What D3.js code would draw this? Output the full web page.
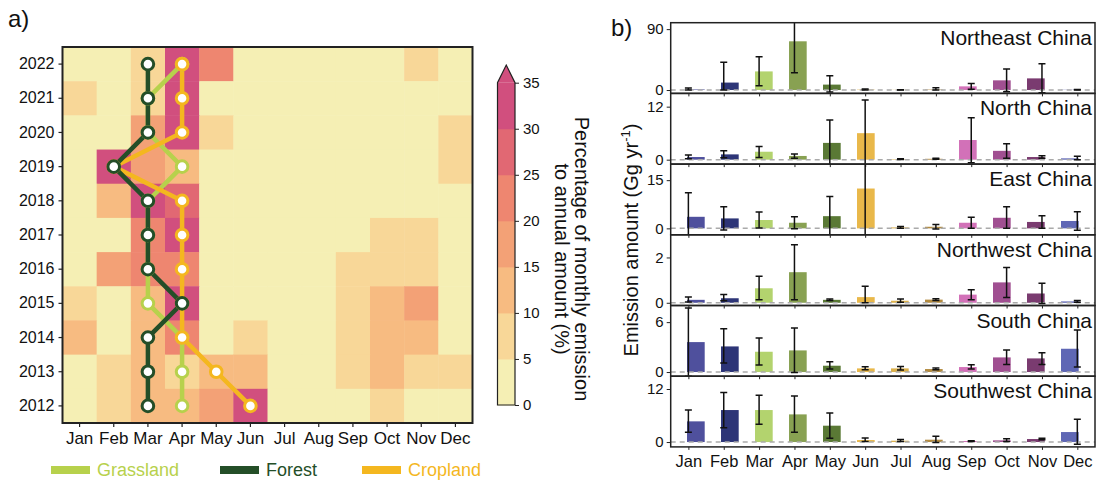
<!DOCTYPE html>
<html>
<head>
<meta charset="utf-8">
<script src="https://cdn.jsdelivr.net/npm/d3@7"></script>
<style>
body { margin: 0; background: #fff; }
svg { font-family: "Liberation Sans", Arial, sans-serif; }
</style>
</head>
<body>
<svg id="chart" width="1101" height="481"></svg>
<script>
// ---- data ----
var months = ["Jan","Feb","Mar","Apr","May","Jun","Jul","Aug","Sep","Oct","Nov","Dec"];
var years = [2022,2021,2020,2019,2018,2017,2016,2015,2014,2013,2012];

// share of annual emission (%) per month, one row per year (2022 first)
var share2022 = [2,2,7,33,22,2,2,2,2,2,7,2];
var share2021 = [7,2,7,33,2,2,2,2,2,2,2,2];
var share2020 = [2,2,17,33,7,2,2,2,2,2,2,7];
var share2019 = [2,33,17,12,2,2,2,2,2,2,2,7];
var share2018 = [2,12,33,27,2,2,2,2,2,2,2,2];
var share2017 = [2,2,22,33,2,2,2,2,2,7,7,2];
var share2016 = [2,17,22,22,2,2,2,2,7,7,7,2];
var share2015 = [7,2,12,33,2,2,2,2,7,12,17,2];
var share2014 = [12,2,12,22,2,7,2,2,7,12,12,2];
var share2013 = [2,7,12,7,12,12,2,2,7,12,7,7];
var share2012 = [2,7,12,12,17,33,2,2,2,7,2,2];
var shares = [share2022,share2021,share2020,share2019,share2018,share2017,share2016,share2015,share2014,share2013,share2012];

// peak month per land type, 2022 first
var grassPeak  = ["Apr","Mar","Mar","Apr","Mar","Mar","Mar","Mar","Apr","Apr","Apr"];
var forestPeak = ["Mar","Mar","Mar","Feb","Mar","Mar","Mar","Apr","Mar","Mar","Mar"];
var cropPeak   = ["Apr","Apr","Apr","Feb","Apr","Apr","Apr","Apr","Apr","May","Jun"];

var cbTicks = [0,5,10,15,20,25,30,35];

// panel b: regional monthly emissions (Gg/yr), mean and error range
var regionNames = ["Northeast China","North China","East China","Northwest China","South China","Southwest China"];
var neMean = [0.8,11,27.5,72,8,0.5,0.2,0.6,5.4,14.3,17.2,0.3];
var neLow  = [0,0,6.4,25.6,-3,0,0,0,1,-2.5,-4,0];
var neHigh = [3,41,49,119,21,1.5,0.4,3.4,9.8,31,38.8,0.6];
var nMean = [0.6,1.2,1.8,0.84,3.8,6.0,0.1,0.2,4.45,2.0,0.6,0.3];
var nLow  = [0.2,0.45,0.5,0.3,-1.4,-1.5,0.05,0.1,-0.7,0.3,0.3,0];
var nHigh = [1.06,2.0,3.0,1.3,9.0,13.5,0.2,0.35,9.5,3.6,0.9,0.77];
var eMean = [3.6,3.1,2.6,1.75,3.8,12.4,0.3,0.5,1.75,3.3,2.0,2.3];
var eLow  = [-3.9,-0.5,0.1,-0.1,-2.3,-3,0,-0.2,0,0,0,-0.6];
var eHigh = [11.1,6.7,5.1,3.6,9.9,28,0.6,1.2,3.5,6.7,3.9,5.2];
var nwMean = [0.13,0.2,0.64,1.35,0.13,0.25,0.09,0.14,0.36,0.9,0.41,0.06];
var nwLow  = [0.03,0.09,0.13,0.13,0.1,0,0.02,0.1,0.13,0.23,-0.03,0.02];
var nwHigh = [0.25,0.36,1.17,2.56,0.17,0.73,0.17,0.18,0.58,1.56,0.86,0.1];
var sMean = [3.6,3.08,2.44,2.6,0.76,0.44,0.44,0.36,0.6,1.76,1.64,2.8];
var sLow  = [-0.5,1.08,0.84,-0.05,0.36,0.28,0.24,0.28,0.36,0.92,0.92,0.6];
var sHigh = [7.7,5.2,4.08,5.28,1.24,0.64,0.66,0.48,0.88,2.64,2.32,5.04];
var swMean = [4.68,7.24,7.24,6.26,3.7,0.45,0.3,0.53,0.23,0.38,0.68,2.26];
var swLow  = [2.19,3.24,4.0,2.19,0.83,0.1,0.1,-0.1,0.15,0.1,0.5,-0.5];
var swHigh = [7.24,11.2,10.6,10.4,6.56,0.9,0.6,1.3,0.3,0.75,0.83,5.13];
var panelDomains = [[-5,99.5],[-1,15],[-2,20],[-0.12,3],[-0.5,8],[-1.1,14.9]];
var panelTicks = [[0,90],[0,12],[0,15],[0,2],[0,6],[0,12]];

// ---- styles ----
var binColors = ["#f5efb4","#f8d798","#f7bb81","#f3a176","#ee8670","#e16873","#d14f7e"];
var monthColors = ["#4f509d","#2d3577","#b3d36e","#88a152","#5a7935","#e9b84a","#ddb24c","#b38b40","#d271b8","#a04f91","#7a3b70","#5f67b5"];
var grassColor = "#b7d14c", forestColor = "#244e28", cropColor = "#f4b71f";

var svg = d3.select("#chart");

// ================= panel a =================
var hx = d3.scaleBand().domain(months).range([62.5, 472.5]);
var hy = d3.scaleBand().domain(years).range([47, 423]);
var color = d3.scaleThreshold().domain([5,10,15,20,25,30]).range(binColors);

var cells = [];
years.forEach(function(yr, i) {
    months.forEach(function(m, j) {
        cells.push({year: yr, month: m, v: shares[i][j]});
    });
});

var heat = svg.append("g");
heat.selectAll("rect")
    .data(cells)
    .enter()
    .append("rect")
    .attr("x", function(d){ return hx(d.month); })
    .attr("y", function(d){ return hy(d.year); })
    .attr("width", hx.bandwidth() + 0.5)
    .attr("height", hy.bandwidth() + 0.5)
    .attr("fill", function(d){ return color(d.v); });

heat.append("rect")
    .attr("x", 62.5).attr("y", 47).attr("width", 410).attr("height", 376)
    .attr("fill", "none").attr("stroke", "#222").attr("stroke-width", 2);

var yAxisA = heat.append("g").attr("transform", "translate(62.5,0)")
    .call(d3.axisLeft(hy).tickSize(4).tickPadding(4));
var xAxisA = heat.append("g").attr("transform", "translate(0,423)")
    .call(d3.axisBottom(hx).tickSize(4).tickPadding(5));
[yAxisA, xAxisA].forEach(function(a) {
    a.select(".domain").remove();
    a.selectAll("line").attr("stroke", "#222").attr("stroke-width", 1.2);
    a.selectAll("text").attr("fill", "#111").style("font-size", "16px");
});
xAxisA.selectAll("text").style("font-size", "17px");

// peak month lines
var series = [
    {peaks: grassPeak, color: grassColor},
    {peaks: cropPeak, color: cropColor},
    {peaks: forestPeak, color: forestColor}
];
var line = d3.line()
    .x(function(d){ return hx(d.m) + hx.bandwidth() / 2; })
    .y(function(d){ return hy(d.y) + hy.bandwidth() / 2; });

series.forEach(function(s) {
    var pts = years.map(function(yr, i){ return {y: yr, m: s.peaks[i]}; });
    heat.append("path")
        .datum(pts)
        .attr("d", line)
        .attr("fill", "none")
        .attr("stroke", s.color)
        .attr("stroke-width", 4.5);
});
series.forEach(function(s) {
    var pts = years.map(function(yr, i){ return {y: yr, m: s.peaks[i]}; });
    heat.selectAll(null)
        .data(pts)
        .enter()
        .append("circle")
        .attr("cx", function(d){ return hx(d.m) + hx.bandwidth() / 2; })
        .attr("cy", function(d){ return hy(d.y) + hy.bandwidth() / 2; })
        .attr("r", 5.8)
        .attr("fill", "#fff")
        .attr("stroke", s.color)
        .attr("stroke-width", 3);
});

svg.append("text").attr("x", 8).attr("y", 27).text("a)")
    .style("font-size", "24px").attr("fill", "#111");

// legend
var legendItems = [
    {name: "Grassland", color: grassColor, x: 51},
    {name: "Forest", color: forestColor, x: 220},
    {name: "Cropland", color: cropColor, x: 362}
];
var legend = svg.append("g");
legend.selectAll("rect")
    .data(legendItems).enter().append("rect")
    .attr("x", function(d){ return d.x; })
    .attr("y", 466).attr("width", 39).attr("height", 8)
    .attr("fill", function(d){ return d.color; });
legend.selectAll("text")
    .data(legendItems).enter().append("text")
    .attr("x", function(d){ return d.x + 46; })
    .attr("y", 476)
    .attr("fill", function(d){ return d.color; })
    .style("font-size", "18px")
    .text(function(d){ return d.name; });

// colorbar
var cbY = d3.scaleLinear().domain([0, 35]).range([405, 82.7]);
var cb = svg.append("g");
var bins = d3.range(7).map(function(i){ return {lo: i * 5, hi: i * 5 + 5, c: binColors[i]}; });
cb.selectAll("rect")
    .data(bins).enter().append("rect")
    .attr("x", 497.5)
    .attr("y", function(d){ return cbY(d.hi); })
    .attr("width", 17.5)
    .attr("height", function(d){ return cbY(d.lo) - cbY(d.hi) + 0.5; })
    .attr("fill", function(d){ return d.c; });
cb.append("path")
    .attr("d", "M497.5," + cbY(35) + "L506.25,65L515," + cbY(35) + "Z")
    .attr("fill", binColors[6]);
cb.append("path")
    .attr("d", "M497.5," + cbY(0) + "L497.5," + cbY(35) + "L506.25,65L515," + cbY(35) + "L515," + cbY(0) + "Z")
    .attr("fill", "none").attr("stroke", "#222").attr("stroke-width", 1.2);
var cbAxis = cb.append("g").attr("transform", "translate(515,0)")
    .call(d3.axisRight(cbY).tickValues(cbTicks).tickSize(4).tickPadding(4));
cbAxis.select(".domain").remove();
cbAxis.selectAll("line").attr("stroke", "#222");
cbAxis.selectAll("text").style("font-size", "15px").attr("fill", "#111");

var cbTitle = svg.append("g").attr("transform", "translate(575,259) rotate(90)");
cbTitle.append("text").attr("text-anchor", "middle").attr("y", 0)
    .style("font-size", "20px").attr("fill", "#111")
    .text("Percentage of monthly emission");
cbTitle.append("text").attr("text-anchor", "middle").attr("y", 20)
    .style("font-size", "20px").attr("fill", "#111")
    .text("to annual amount (%)");

// ================= panel b =================
var left = 670.7, right = 1095;
var panelTop = 22.7, panelH = 70.7;
var bx = d3.scaleBand().domain(months).range([left, right]).padding(0.48);
var bxPt = d3.scalePoint().domain(months).range([left, right]).padding(0.5);

var means = [neMean, nMean, eMean, nwMean, sMean, swMean];
var lows = [neLow, nLow, eLow, nwLow, sLow, swLow];
var highs = [neHigh, nHigh, eHigh, nwHigh, sHigh, swHigh];

var defs = svg.append("defs");

regionNames.forEach(function(name, p) {
    var top = panelTop + p * panelH, bottom = top + panelH;
    var y = d3.scaleLinear().domain(panelDomains[p]).range([bottom, top]);
    var g = svg.append("g");

    defs.append("clipPath").attr("id", "clip" + p)
        .append("rect").attr("x", left).attr("y", top)
        .attr("width", right - left).attr("height", panelH);
    var inner = g.append("g").attr("clip-path", "url(#clip" + p + ")");

    var rows = months.map(function(m, i) {
        return {m: m, v: means[p][i], lo: lows[p][i], hi: highs[p][i], c: monthColors[i]};
    });

    inner.selectAll("rect.bar")
        .data(rows).enter().append("rect")
        .attr("class", "bar")
        .attr("x", function(d){ return bx(d.m); })
        .attr("y", function(d){ return y(Math.max(0, d.v)); })
        .attr("width", bx.bandwidth())
        .attr("height", function(d){ return Math.abs(y(0) - y(d.v)); })
        .attr("fill", function(d){ return d.c; });

    inner.append("line")
        .attr("x1", left).attr("x2", right)
        .attr("y1", y(0)).attr("y2", y(0))
        .attr("stroke", "#aaa").attr("stroke-width", 1.5)
        .attr("stroke-dasharray", "5,4");

    var eb = inner.selectAll("g.err").data(rows).enter().append("g")
        .attr("stroke", "#111").attr("stroke-width", 1.5);
    eb.append("line")
        .attr("x1", function(d){ return bxPt(d.m); })
        .attr("x2", function(d){ return bxPt(d.m); })
        .attr("y1", function(d){ return y(d.lo); })
        .attr("y2", function(d){ return y(d.hi); });
    eb.append("line")
        .attr("x1", function(d){ return bxPt(d.m) - 3.5; })
        .attr("x2", function(d){ return bxPt(d.m) + 3.5; })
        .attr("y1", function(d){ return y(d.lo); })
        .attr("y2", function(d){ return y(d.lo); });
    eb.append("line")
        .attr("x1", function(d){ return bxPt(d.m) - 3.5; })
        .attr("x2", function(d){ return bxPt(d.m) + 3.5; })
        .attr("y1", function(d){ return y(d.hi); })
        .attr("y2", function(d){ return y(d.hi); });

    // axes
    var ya = g.append("g").attr("transform", "translate(" + left + ",0)")
        .call(d3.axisLeft(y).tickValues(panelTicks[p]).tickFormat(d3.format("d")).tickSize(4).tickPadding(3));
    ya.select(".domain").remove();
    ya.selectAll("line").attr("stroke", "#222");
    ya.selectAll("text").style("font-size", "15px").attr("fill", "#111");

    var xa = g.append("g").attr("transform", "translate(0," + bottom + ")")
        .call(d3.axisBottom(bxPt).tickSize(3).tickPadding(5));
    xa.select(".domain").remove();
    xa.selectAll("line").attr("stroke", "#222");
    if (p < regionNames.length - 1) {
        xa.selectAll("text").remove();
    } else {
        xa.selectAll("text").style("font-size", "16.5px").attr("fill", "#111");
    }

    g.append("rect")
        .attr("x", left).attr("y", top).attr("width", right - left).attr("height", panelH)
        .attr("fill", "none").attr("stroke", "#222").attr("stroke-width", 1.5);

    g.append("text")
        .attr("x", right - 3).attr("y", top + 22)
        .attr("text-anchor", "end")
        .style("font-size", "21px").attr("fill", "#111")
        .text(name);
});

var yTitle = svg.append("text")
    .attr("transform", "translate(638,240) rotate(-90)")
    .attr("text-anchor", "middle")
    .style("font-size", "20px").attr("fill", "#111");
yTitle.append("tspan").text("Emission amount (Gg yr");
yTitle.append("tspan").attr("dy", -8).style("font-size", "13px").text("-1");
yTitle.append("tspan").attr("dy", 8).text(")");

svg.append("text").attr("x", 611).attr("y", 36).text("b)")
    .style("font-size", "24px").attr("fill", "#111");
</script>
</body>
</html>
